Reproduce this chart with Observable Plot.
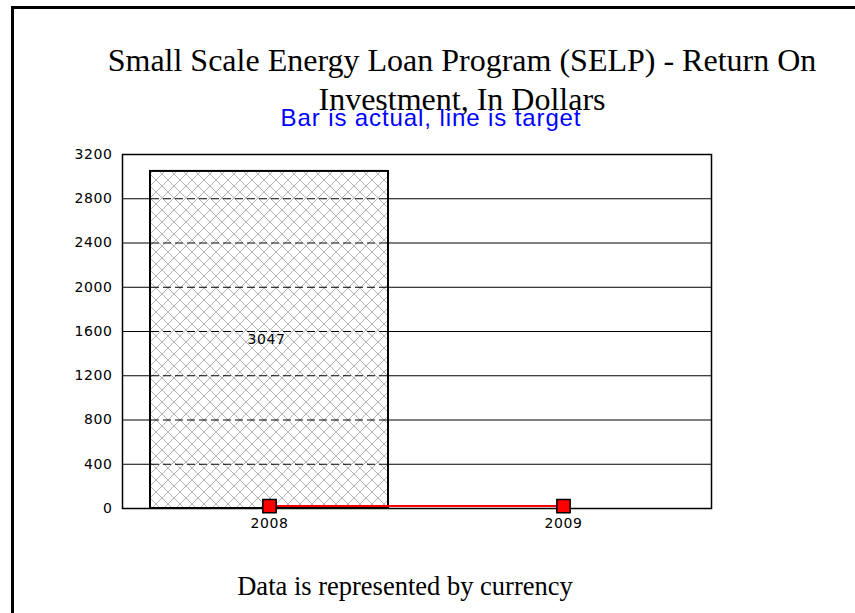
<!DOCTYPE html>
<html>
<head>
<meta charset="utf-8">
<script src="https://cdn.jsdelivr.net/npm/d3@7"></script>
<script src="https://cdn.jsdelivr.net/npm/@observablehq/plot@0.6"></script>
<style>
  body { margin: 0; background: #fff; }
  #wrap { position: relative; width: 855px; height: 613px; overflow: hidden; background: #fff; }
  #chart { position: absolute; left: 0; top: 0; }
  #border { position: absolute; left: 11px; top: 6px; width: 900px; height: 700px; border-left: 3px solid #000; border-top: 3px solid #000; }
  .title { position: absolute; left: 62px; width: 800px; top: 40.5px; text-align: center; font-family: "Liberation Serif", "Times New Roman", serif; font-size: 32px; line-height: 39px; color: #000; white-space: nowrap; }
  .subtitle { position: absolute; left: 231px; width: 400px; top: 106px; text-align: center; font-family: "Liberation Sans", Arial, sans-serif; font-size: 24px; line-height: 24px; letter-spacing: 0.9px; color: #0000ff; white-space: nowrap; }
  .caption { position: absolute; left: 205px; width: 400px; top: 573px; text-align: center; font-family: "Liberation Serif", "Times New Roman", serif; font-size: 26.5px; line-height: 26.5px; color: #000; white-space: nowrap; }
</style>
</head>
<body>
<div id="wrap">
  <div id="chart"></div>
  <div id="border"></div>
  <div class="title">Small Scale Energy Loan Program (SELP) - Return On<br>Investment, In Dollars</div>
  <div class="subtitle">Bar is actual, line is target</div>
  <div class="caption">Data is represented by currency</div>
</div>
<script>
const years = ["2008", "2009"];
const actual = [3047, null];
const target = [22, 22];
const yTicks = [0, 400, 800, 1200, 1600, 2000, 2400, 2800, 3200];

const bars = years.map((year, i) => ({year, value: actual[i]})).filter(d => d.value != null);
const targets = years.map((year, i) => ({year, value: target[i]}));
const innerGrid = [];
bars.forEach(b => yTicks.forEach(t => { if (t > 0 && t < b.value) innerGrid.push({year: b.year, value: t}); }));

const svg = Plot.plot({
  width: 855,
  height: 613,
  marginLeft: 122,
  marginRight: 144,
  marginTop: 154,
  marginBottom: 105,
  style: { fontFamily: "'DejaVu Sans', Arial, sans-serif", fontSize: "14px", letterSpacing: "0.6px", color: "#000", background: "transparent" },
  x: { domain: years, paddingInner: 0.19, paddingOuter: 0.095, label: null },
  y: { domain: [0, 3200], label: null },
  marks: [
    Plot.ruleY(yTicks.filter(t => t > 0 && t < 3200), { stroke: "#000", strokeWidth: 1, strokeOpacity: 1 }),
    Plot.barY(bars, { x: "year", y: "value", fill: "url(#hatch)", stroke: "#000", strokeWidth: 2 }),
    Plot.tickY(innerGrid, { x: "year", y: "value", stroke: "#000", strokeWidth: 1, strokeDasharray: "8,4", inset: 1 }),
    Plot.text(bars, { x: "year", y: d => d.value / 2, text: d => String(d.value), fill: "#000", dx: -3 }),
    Plot.frame({ stroke: "#000", strokeWidth: 1.5 }),
    Plot.axisY({ ticks: yTicks, tickSize: 0, tickPadding: 10, tickFormat: d => String(d) }),
    Plot.axisX({ tickSize: 0, tickPadding: 10 }),
    Plot.line(targets, { x: "year", y: "value", stroke: "#ff0000", strokeWidth: 2 }),
    Plot.dot(targets, { x: "year", y: "value", symbol: "square", r: 7.5, fill: "#ff0000", stroke: "#000", strokeWidth: 1.5 })
  ]
});

const defs = d3.select(svg).insert("defs", ":first-child");
const pat = defs.append("pattern")
  .attr("id", "hatch")
  .attr("patternUnits", "userSpaceOnUse")
  .attr("width", 12)
  .attr("height", 12);
pat.append("rect").attr("width", 12).attr("height", 12).attr("fill", "#fff");
pat.append("path").attr("d", "M0,0L12,12M12,0L0,12").attr("stroke", "#b4b4b4").attr("stroke-width", 1);

document.getElementById("chart").appendChild(svg);
</script>
</body>
</html>
